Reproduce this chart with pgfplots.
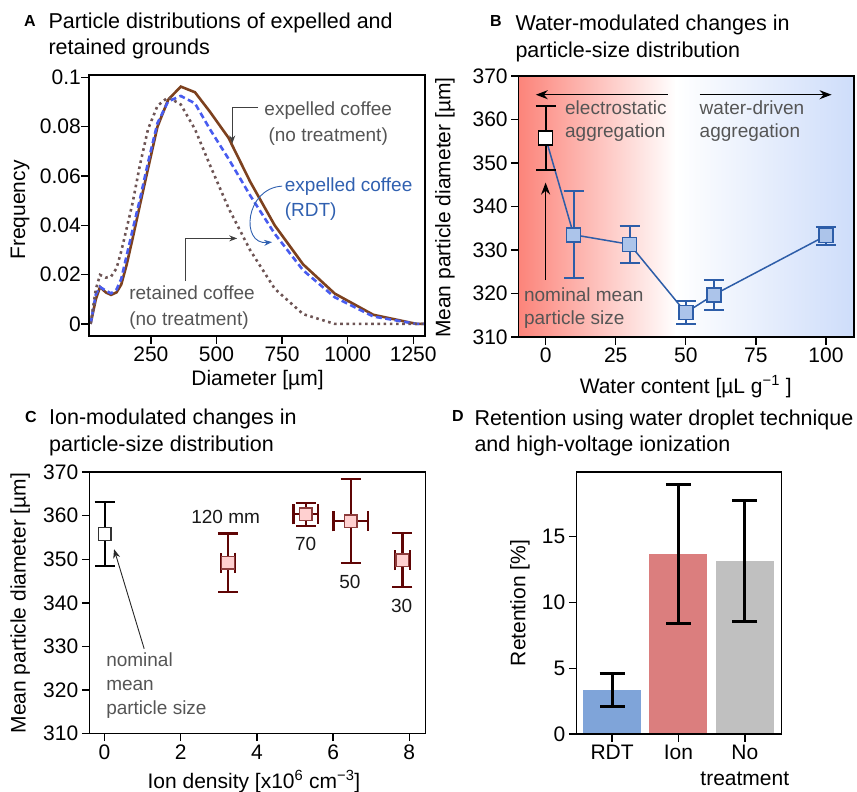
\documentclass[border=0pt]{standalone}
\usepackage{pgfplots}
\pgfplotsset{compat=1.18}
\usepackage{fontspec}
\setmainfont{Liberation Sans}
\usetikzlibrary{arrows.meta}

\definecolor{brownline}{RGB}{125,65,30}
\definecolor{rdtblue}{RGB}{72,92,240}
\definecolor{retgray}{RGB}{110,85,85}
\definecolor{annogray}{RGB}{85,85,85}
\definecolor{annoblue}{RGB}{48,96,176}
\definecolor{bline}{RGB}{45,93,168}
\definecolor{bfill}{RGB}{172,196,234}
\definecolor{bgred}{RGB}{252,132,122}
\definecolor{bgblue}{RGB}{206,221,250}
\definecolor{maroon}{RGB}{95,5,5}
\definecolor{pinkfill}{RGB}{255,208,208}
\definecolor{pinkedge}{RGB}{140,60,60}
\definecolor{barblue}{RGB}{127,164,217}
\definecolor{barred}{RGB}{219,126,126}
\definecolor{bargray}{RGB}{192,192,192}

\newcommand{\fsT}{\fontsize{21.5}{27}\selectfont}
\newcommand{\fsL}{\fontsize{21}{26}\selectfont}
\newcommand{\fsN}{\fontsize{19}{23.5}\selectfont}
\newcommand{\fsP}{\fontsize{16}{19}\selectfont\bfseries}

\pgfplotsset{
  panel/.style={
    scale only axis, anchor=south west,
    axis line style={line width=1.4pt},
    every tick/.style={black, line width=1.4pt},
    tick align=outside, major tick length=7.5pt,
    tick pos=left,
    tick label style={font=\fsL},
    label style={font=\fsL},
    /pgf/number format/assume math mode=true,
    /pgf/number format/1000 sep={},
    axis on top,
  },
}

\begin{document}
\begin{tikzpicture}[x=1pt, y=1pt]
\useasboundingbox (0pt,0pt) rectangle (857pt,-792pt);
\tikzset{tt/.style={anchor=base west, inner sep=0pt, font=\fsT},
         pl/.style={anchor=base west, inner sep=0pt, font=\fsP},
         an/.style={inner sep=0pt, font=\fsN}}

% panel titles
\node[pl] at (24pt,-27pt) {A};
\node[tt] at (48.3pt,-28.3pt) {Particle distributions of expelled and};
\node[tt] at (48.3pt,-55pt) {retained grounds};
\node[pl] at (490pt,-27pt) {B};
\node[tt] at (515.3pt,-30.7pt) {Water-modulated changes in};
\node[tt] at (515.3pt,-57.3pt) {particle-size distribution};
\node[pl] at (25pt,-422pt) {C};
\node[tt] at (49pt,-424.3pt) {Ion-modulated changes in};
\node[tt] at (49pt,-451pt) {particle-size distribution};
\node[pl] at (452pt,-421.5pt) {D};
\node[tt] at (474.3pt,-425pt) {Retention using water droplet technique};
\node[tt] at (474.3pt,-451.7pt) {and high-voltage ionization};

% ---------- A ----------
\begin{axis}[panel, at={(89pt,-336pt)}, width=336pt, height=261pt,
  xmin=14, xmax=1295, ymin=-0.0049, ymax=0.101,
  xtick={250,500,750,1000,1250},
  ytick={0,0.02,0.04,0.06,0.08,0.1},
  yticklabels={0,0.02,0.04,0.06,0.08,0.1},
  scaled y ticks=false,
  yticklabel style={inner sep=0.5pt},
  xlabel={Diameter [µm]}, ylabel={Frequency},
  xlabel style={at={(axis description cs:0.5015,-0.169)}, anchor=center},
  ylabel style={at={(axis description cs:-0.205,0.483)}, anchor=center},
]
\addplot[brownline, line width=2.6pt] coordinates {
 (20,0) (40,0.010) (56,0.0150) (78,0.0128) (98,0.0118) (119,0.0128)
 (137,0.0160) (157,0.0238) (181,0.0350) (208,0.0482) (239,0.0630)
 (275,0.0800) (316,0.0910) (364,0.0963) (418,0.0940) (475,0.0861)
 (546,0.0755) (628,0.0578) (722,0.0400) (830,0.0242) (951,0.0123)
 (1098,0.0037) (1263,0) (1295,0)};
\addplot[rdtblue, line width=2.6pt, dash pattern=on 6pt off 3.5pt] coordinates {
 (20,0) (40,0.012) (56,0.0150) (78,0.0135) (98,0.0124) (119,0.0140)
 (137,0.0183) (157,0.0275) (181,0.0385) (208,0.0505) (239,0.0655)
 (275,0.0815) (316,0.0903) (364,0.0925) (418,0.0895) (475,0.0790)
 (546,0.0670) (628,0.0522) (722,0.0366) (830,0.0218) (951,0.0108)
 (1098,0.0030) (1263,0) (1295,0)};
\addplot[retgray, line width=2.6pt, dash pattern=on 2.6pt off 3.6pt] coordinates {
 (20,0) (40,0.014) (56,0.0199) (78,0.0188) (98,0.0192) (119,0.0226)
 (137,0.0295) (157,0.0385) (181,0.0495) (208,0.0644) (239,0.0790)
 (275,0.0885) (316,0.0920) (364,0.0890) (418,0.0790) (475,0.0645)
 (546,0.0470) (628,0.0300) (722,0.0143) (830,0.0040) (951,0)
 (1098,0) (1263,0) (1295,0)};
% annotations
\draw[black!75, line width=1pt, -{Stealth[length=8pt,width=6pt]}]
  (axis cs:659,0.0878) -- (axis cs:560,0.0878) -- (axis cs:560,0.0732);
\node[an, annogray, anchor=base] at (axis cs:926,0.0847) {expelled coffee};
\node[an, annogray, anchor=base] at (axis cs:926,0.0739) {(no treatment)};
\draw[annoblue, line width=0.9pt, -{Stealth[length=8pt,width=6pt]}]
  (axis cs:750,0.0559) .. controls (axis cs:609,0.0551) and (axis cs:590,0.032) .. (axis cs:712,0.0332);
\node[an, annoblue, anchor=base west] at (axis cs:760,0.0536) {expelled coffee};
\node[an, annoblue, anchor=base west] at (axis cs:760,0.0435) {(RDT)};
\draw[black!75, line width=1pt, -{Stealth[length=8pt,width=6pt]}]
  (axis cs:382,0.0174) -- (axis cs:382,0.0347) -- (axis cs:579,0.0347);
\node[an, annogray, anchor=base west] at (axis cs:167,0.0100) {retained coffee};
\node[an, annogray, anchor=base west] at (axis cs:167,-0.0008) {(no treatment)};
\end{axis}

% ---------- B ----------
\begin{axis}[panel, at={(518.7pt,-337pt)}, width=335.3pt, height=261pt,
  xmin=-9.6, xmax=110, ymin=310, ymax=370,
  xtick={0,25,50,75,100}, ytick={310,320,...,370},
  xlabel={Water content [µL g\textsuperscript{−1} ]},
  ylabel={Mean particle diameter [µm]},
  xlabel style={at={(axis description cs:0.498,-0.19)}, anchor=center},
  ylabel style={at={(axis description cs:-0.22,0.496)}, anchor=center},
]
\fill[left color=bgred, right color=white] (axis cs:-9.6,310) rectangle (axis cs:46.5,370);
\fill[left color=white, right color=bgblue] (axis cs:46.4,310) rectangle (axis cs:110,370);
\draw[black, line width=1.3pt, -{Stealth[length=12pt,width=9pt]}]
  (axis cs:43.6,365.7) -- (axis cs:-3.5,365.7);
\draw[black, line width=1.3pt, -{Stealth[length=12pt,width=9pt]}]
  (axis cs:54.9,365.7) -- (axis cs:102,365.7);
\draw[black, line width=1.3pt, -{Stealth[length=12pt,width=9pt]}]
  (axis cs:0,323.1) -- (axis cs:0,345.5);
\node[an, annogray, anchor=base west] at (axis cs:6.9,361.2) {electrostatic};
\node[an, annogray, anchor=base west] at (axis cs:6.9,355.8) {aggregation};
\node[an, annogray, anchor=base west] at (axis cs:54.9,361.2) {water-driven};
\node[an, annogray, anchor=base west] at (axis cs:54.9,355.8) {aggregation};
\node[an, annogray, anchor=base west] at (axis cs:-7.75,318.1) {nominal mean};
\node[an, annogray, anchor=base west] at (axis cs:-7.75,312.8) {particle size};
\addplot[bline, line width=1.5pt, no marks] coordinates {
 (0,355.8) (10,333.5) (30,331.3) (50,315.6) (60,319.7) (100,333.3)};
\addplot[only marks, mark=square*, mark size=7pt,
  mark options={fill=bfill, draw=bline, line width=1.5pt},
  error bars/.cd, y dir=both, y explicit,
  error bar style={bline, line width=2pt},
  error mark options={rotate=90, bline, line width=2pt, mark size=10pt}]
  coordinates {
 (10,333.5) +- (0,10.0)
 (30,331.3) +- (0,4.2)
 (50,315.6) +- (0,2.7)
 (60,319.7) +- (0,3.5)
 (100,333.3) +- (0,2.1)};
\addplot[only marks, mark=square*, mark size=7pt,
  mark options={fill=white, draw=black, line width=1.5pt},
  error bars/.cd, y dir=both, y explicit,
  error bar style={black, line width=2pt},
  error mark options={rotate=90, black, line width=2pt, mark size=10pt}]
  coordinates {(0,355.8) +- (0,7.3)};
\end{axis}

% ---------- C ----------
\begin{axis}[panel, at={(89.3pt,-733.7pt)}, width=336pt, height=261.7pt,
  xmin=-0.4, xmax=8.42, ymin=310, ymax=370,
  xtick={0,2,4,6,8}, ytick={310,320,...,370},
  xlabel={Ion density [x10\textsuperscript{6} cm\textsuperscript{−3}]},
  ylabel={Mean particle diameter [µm]},
  xlabel style={at={(axis description cs:0.49,-0.183)}, anchor=center},
  ylabel style={at={(axis description cs:-0.206,0.499)}, anchor=center},
]
\addplot[only marks, mark=square*, mark size=6.3pt,
  mark options={fill=white, draw=black!80, line width=1.4pt},
  error bars/.cd, y dir=both, y explicit,
  error bar style={black, line width=2pt},
  error mark options={rotate=90, black, line width=2pt, mark size=10pt}]
  coordinates {(0,355.8) +- (0,7.3)};
\addplot[only marks, mark=square*, mark size=6.3pt,
  mark options={fill=pinkfill, draw=pinkedge, line width=1.4pt},
  error bars/.cd, x dir=both, x explicit, y dir=both, y explicit,
  error bar style={maroon, line width=2.2pt},
  error mark options={rotate=90, maroon, line width=2.2pt, mark size=10pt}]
  coordinates {
 (3.24,349.2) +- (0.19,6.7)
 (5.28,360.3) +- (0.32,2.6)
 (6.46,358.7) +- (0.45,9.65)
 (7.82,349.8) +- (0.20,6.2)};
\node[an, black!90, anchor=center] at (axis cs:3.18,359.7) {120 mm};
\node[an, black!90, anchor=center] at (axis cs:5.28,353.4) {70};
\node[an, black!90, anchor=center] at (axis cs:6.44,344.8) {50};
\node[an, black!90, anchor=center] at (axis cs:7.80,339.3) {30};
\draw[black!85, line width=0.9pt, -{Stealth[length=9pt,width=7pt]}]
  (axis cs:1.04,329.5) -- (axis cs:0.25,352.3);
\node[an, annogray, anchor=base west] at (axis cs:0.04,325.5) {nominal};
\node[an, annogray, anchor=base west] at (axis cs:0.04,320.0) {mean};
\node[an, annogray, anchor=base west] at (axis cs:0.04,314.5) {particle size};
\end{axis}

% ---------- D ----------
\begin{axis}[panel, at={(576.3pt,-734pt)}, width=205pt, height=262pt,
  xmin=-0.54, xmax=2.55, ymin=0, ymax=19.92,
  xtick={0,1,2}, xticklabels={RDT,Ion,{No\\treatment}},
  xticklabel style={align=center},
  ytick={0,5,10,15},
  ylabel={Retention [\%]},
  ylabel style={at={(axis description cs:-0.275,0.5)}, anchor=center},
]
\addplot[ybar, bar width=58pt, bar shift=0pt, fill=barblue, draw=none,
  error bars/.cd, y dir=both, y explicit,
  error bar style={black, line width=3pt},
  error mark options={rotate=90, black, line width=3pt, mark size=12.5pt}]
  coordinates {(0,3.35) +- (0,1.25)};
\addplot[ybar, bar width=58pt, bar shift=0pt, fill=barred, draw=none,
  error bars/.cd, y dir=both, y explicit,
  error bar style={black, line width=3pt},
  error mark options={rotate=90, black, line width=3pt, mark size=12.5pt}]
  coordinates {(1,13.68) +- (0,5.3)};
\addplot[ybar, bar width=58pt, bar shift=0pt, fill=bargray, draw=none,
  error bars/.cd, y dir=both, y explicit,
  error bar style={black, line width=3pt},
  error mark options={rotate=90, black, line width=3pt, mark size=12.5pt}]
  coordinates {(2,13.17) +- (0,4.58)};
\end{axis}
\end{tikzpicture}
\end{document}
